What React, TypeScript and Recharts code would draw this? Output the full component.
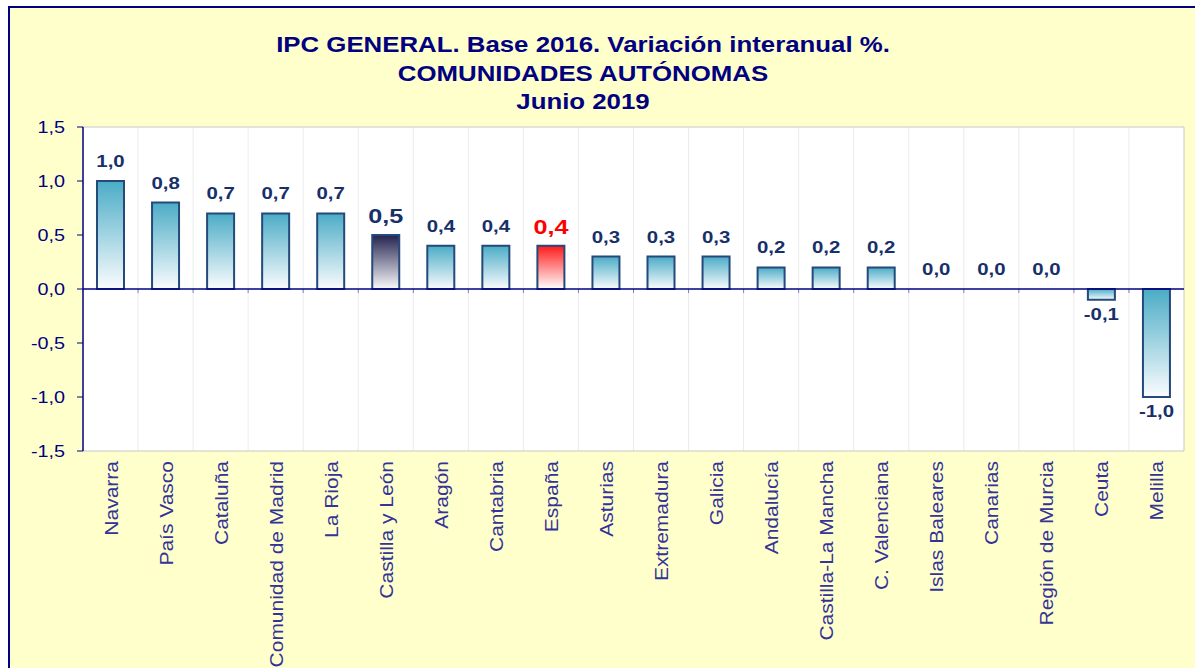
import { Bar, BarChart, CartesianGrid, Cell, LabelList, ReferenceLine, XAxis, YAxis } from 'recharts';

const categories = [
  'Navarra',
  'País Vasco',
  'Cataluña',
  'Comunidad de Madrid',
  'La Rioja',
  'Castilla y León',
  'Aragón',
  'Cantabria',
  'España',
  'Asturias',
  'Extremadura',
  'Galicia',
  'Andalucía',
  'Castilla-La Mancha',
  'C. Valenciana',
  'Islas Baleares',
  'Canarias',
  'Región de Murcia',
  'Ceuta',
  'Melilla',
];
const values = [1.0, 0.8, 0.7, 0.7, 0.7, 0.5, 0.4, 0.4, 0.4, 0.3, 0.3, 0.3, 0.2, 0.2, 0.2, 0.0, 0.0, 0.0, -0.1, -1.0];
const yTicks = [-1.5, -1, -0.5, 0, 0.5, 1, 1.5];
const titleLines = ['IPC GENERAL. Base 2016. Variación interanual %.', 'COMUNIDADES AUTÓNOMAS', 'Junio 2019'];

const data = categories.map((name, i) => ({ name, value: values[i] }));

const NAVY = '#000080';
const LABEL = '#17306A';
const FONT = "Arial, 'Liberation Sans', sans-serif";
// the source renders its Arial noticeably wider than it is tall
const STRETCH = 1.2;
const fmt = (v: number) => v.toFixed(1).replace('.', ',');

function fillFor(name: string) {
  if (name === 'España') return 'url(#gRed)';
  if (name === 'Castilla y León') return 'url(#gNavy)';
  return 'url(#gBlue)';
}

function WideText({ x, y, rotate = 0, size, bold, fill, anchor, dy, children }: any) {
  return (
    <text
      transform={`translate(${x}, ${y}) rotate(${rotate}) scale(${STRETCH}, 1)`}
      textAnchor={anchor}
      dy={dy}
      fontSize={size}
      fontWeight={bold ? 'bold' : 'normal'}
      fill={fill}
      fontFamily={FONT}
    >
      {children}
    </text>
  );
}

function XTick({ x, y, payload }: any) {
  return (
    <WideText x={x + 7} y={y + 2} rotate={-90} size={17.5} fill="#333399" anchor="end">
      {payload.value}
    </WideText>
  );
}

function YTick({ x, y, payload }: any) {
  return (
    <WideText x={x} y={y} size={16.5} fill={NAVY} anchor="end" dy="0.36em">
      {fmt(payload.value)}
    </WideText>
  );
}

function ValueLabel(props: any) {
  const { x, y, width, height, value, index } = props;
  const name = categories[index];
  const top = Math.min(y, y + height);
  const bottom = Math.max(y, y + height);
  const big = name === 'España' || name === 'Castilla y León';
  const color = name === 'España' ? '#FF0000' : LABEL;
  const ty = value < 0 ? bottom + 20 : top - (big ? 12 : 14);
  return (
    <WideText x={x + width / 2} y={ty} size={big ? 21 : 17} bold fill={color} anchor="middle">
      {fmt(value)}
    </WideText>
  );
}

function ZeroLine(props: any) {
  const { x1, y1, x2 } = props;
  const step = (x2 - x1) / categories.length;
  return (
    <g>
      {categories.map((_, i) =>
        i === 0 ? null : (
          <line key={i} x1={x1 + i * step} x2={x1 + i * step} y1={y1} y2={y1 + 4} stroke="#8080c0" strokeWidth={1} />
        )
      )}
      <line x1={x1} x2={x2} y1={y1} y2={y1} stroke={NAVY} strokeWidth={1.5} />
    </g>
  );
}

export default function App() {
  return (
    <div
      style={{
        position: 'fixed',
        top: 6,
        left: 8,
        width: 1187,
        height: 662,
        background: '#FFFFCC',
        borderTop: `2px solid ${NAVY}`,
        borderLeft: `2px solid ${NAVY}`,
        overflow: 'hidden',
        fontFamily: FONT,
      }}
    >
      <div
        style={{
          position: 'absolute',
          top: 23,
          left: 0,
          width: 1146,
          textAlign: 'center',
          color: NAVY,
          fontWeight: 'bold',
          fontSize: 21.5,
          lineHeight: '28.5px',
          transform: `scaleX(${STRETCH})`,
        }}
      >
        {titleLines.map((t) => (
          <div key={t}>{t}</div>
        ))}
      </div>
      <div style={{ position: 'absolute', top: 0, left: 0 }}>
        <BarChart width={1185} height={660} data={data} margin={{ top: 119, right: 11, bottom: 17, left: 0 }} barSize={27}>
          <defs>
            <linearGradient id="gBlue" x1="0" y1="0" x2="0" y2="1">
              <stop offset="0%" stopColor="#4BACC6" />
              <stop offset="100%" stopColor="#FAFCFE" />
            </linearGradient>
            <linearGradient id="gNavy" x1="0" y1="0" x2="0" y2="1">
              <stop offset="0%" stopColor="#23224F" />
              <stop offset="100%" stopColor="#FAFAFC" />
            </linearGradient>
            <linearGradient id="gRed" x1="0" y1="0" x2="0" y2="1">
              <stop offset="0%" stopColor="#FF1A1A" />
              <stop offset="100%" stopColor="#FFFFFF" />
            </linearGradient>
          </defs>
          <CartesianGrid
            fill="#FFFFFF"
            stroke="#ECECEC"
            horizontal={false}
            verticalCoordinatesGenerator={({ offset }: any) =>
              categories.map((_, i) => offset.left + (i * offset.width) / categories.length)
            }
          />
          <CartesianGrid
            stroke="#C8C8C8"
            horizontalCoordinatesGenerator={({ offset }: any) => [offset.top, offset.top + offset.height]}
            verticalCoordinatesGenerator={({ offset }: any) => [offset.left + offset.width]}
          />
          <XAxis dataKey="name" interval={0} tick={<XTick />} tickLine={false} axisLine={false} height={200} />
          <YAxis
            domain={[-1.5, 1.5]}
            ticks={yTicks}
            width={73}
            tickSize={6}
            tickMargin={12}
            axisLine={{ stroke: NAVY, strokeWidth: 1.5 }}
            tickLine={{ stroke: NAVY }}
            tick={<YTick />}
            allowDataOverflow
          />
          <Bar
            dataKey="value"
            stroke="#24497A"
            strokeWidth={2}
            isAnimationActive={false}
            minPointSize={(v: number) => (v === 0 ? 0.01 : 0)}
          >
            {data.map((d) => (
              <Cell key={d.name} fill={fillFor(d.name)} stroke={d.value === 0 ? 'none' : '#24497A'} />
            ))}
            <LabelList dataKey="value" content={<ValueLabel />} />
          </Bar>
          <ReferenceLine y={0} shape={<ZeroLine />} />
        </BarChart>
      </div>
    </div>
  );
}
